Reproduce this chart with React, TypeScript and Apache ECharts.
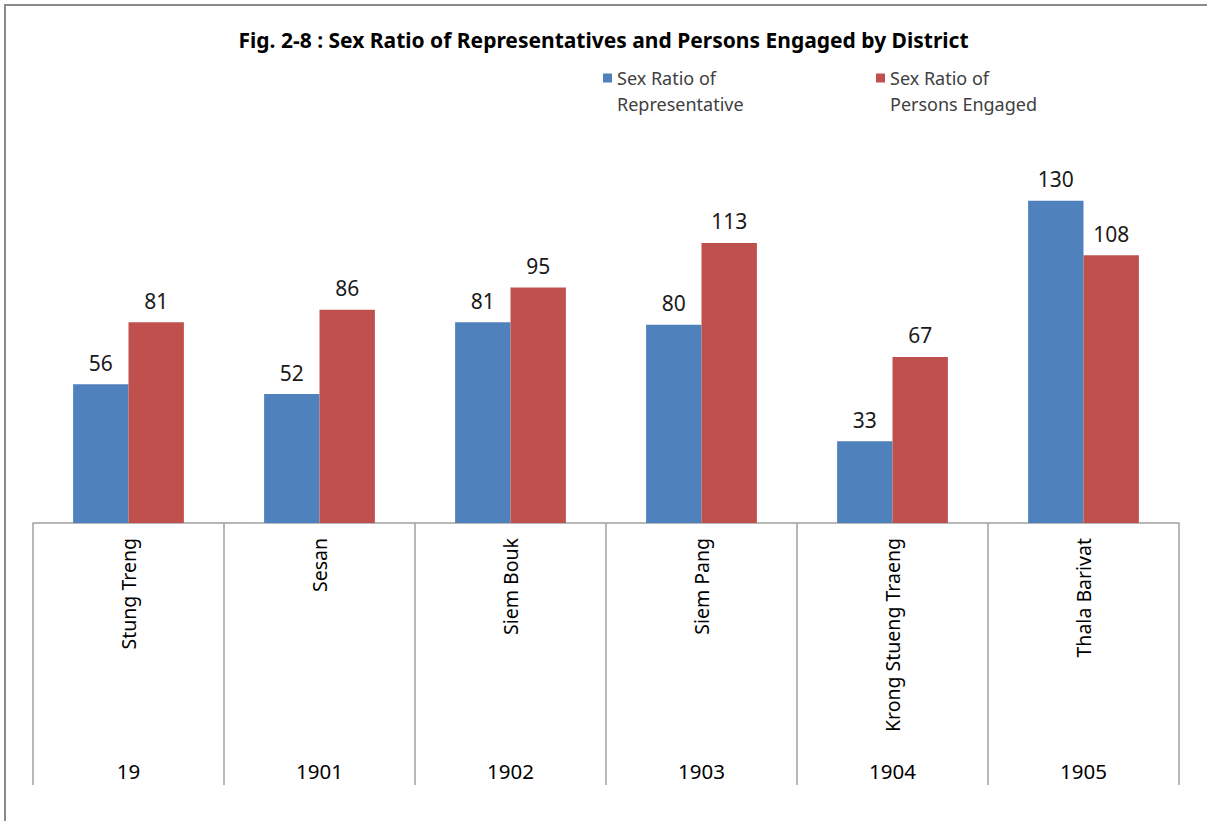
import React, { useEffect, useRef } from "react";
import * as echarts from "echarts";

const districts = ["Stung Treng", "Sesan", "Siem Bouk", "Siem Pang", "Krong Stueng Traeng", "Thala Barivat"];
const districtCodes = ["19", "1901", "1902", "1903", "1904", "1905"];
const seriesNames = ["Sex Ratio of Representative", "Sex Ratio of Persons Engaged"];
const representativeRatio = [56, 52, 81, 80, 33, 130];
const personsEngagedRatio = [81, 86, 95, 113, 67, 108];
const colors = ["#4F81BD", "#C0504D"];

const FONT = "Noto Sans";

export default function App() {
  const ref = useRef<HTMLDivElement>(null);

  useEffect(() => {
    document.body.style.margin = "0";
    const chart = echarts.init(ref.current!, null, { renderer: "svg" });
    const legendFormatter = (name: string) => "\n" + name.replace("of ", "of\n");
    const legendBase = {
      icon: "rect",
      itemWidth: 9,
      itemHeight: 9,
      padding: 0,
      formatter: legendFormatter,
      textStyle: { fontFamily: FONT, fontSize: 18, color: "#404040", lineHeight: 26 },
    };
    chart.setOption({
      animation: false,
      backgroundColor: "#ffffff",
      title: {
        text: "Fig. 2-8 : Sex Ratio of Representatives and Persons Engaged by District",
        left: "center",
        top: 29,
        padding: 0,
        textStyle: { fontFamily: FONT, fontSize: 21, fontWeight: "bold", color: "#000" },
      },
      legend: [
        { ...legendBase, data: [seriesNames[0]], left: 603, top: 39 },
        { ...legendBase, data: [seriesNames[1]], left: 876, top: 39 },
      ],
      grid: { left: 33, right: 28, top: 176, bottom: 298, containLabel: false },
      xAxis: [
        {
          type: "category",
          data: districts,
          axisLine: { show: true, lineStyle: { color: "#a0a0a0", width: 1.5 } },
          axisTick: { show: true, interval: 0, length: 262, lineStyle: { color: "#a0a0a0", width: 1.5 } },
          axisLabel: { interval: 0, rotate: 90, margin: 15, fontFamily: FONT, fontSize: 19.5, color: "#000" },
          splitLine: { show: false },
        },
        {
          type: "category",
          data: districtCodes,
          position: "bottom",
          offset: 229,
          axisLine: { show: false },
          axisTick: { show: false },
          axisLabel: { interval: 0, margin: 8, fontFamily: FONT, fontSize: 20.5, color: "#000" },
          splitLine: { show: false },
        },
      ],
      yAxis: { type: "value", min: 0, max: 140, show: false, splitLine: { show: false } },
      series: [
        {
          name: seriesNames[0],
          type: "bar",
          data: representativeRatio,
          itemStyle: { color: colors[0] },
          barGap: "0%",
          barCategoryGap: "42%",
          label: { show: true, position: "top", distance: 11, fontFamily: FONT, fontSize: 21, color: "#1a1a1a" },
        },
        {
          name: seriesNames[1],
          type: "bar",
          data: personsEngagedRatio,
          itemStyle: { color: colors[1] },
          barGap: "0%",
          barCategoryGap: "42%",
          label: { show: true, position: "top", distance: 11, fontFamily: FONT, fontSize: 21, color: "#1a1a1a" },
        },
      ],
      graphic: [
        { type: "line", shape: { x1: 4, y1: 5, x2: 1207, y2: 5 }, style: { stroke: "#8a8a8a", lineWidth: 2 } },
        { type: "line", shape: { x1: 5, y1: 4, x2: 5, y2: 821 }, style: { stroke: "#8a8a8a", lineWidth: 2 } },
      ],
    });
    return () => chart.dispose();
  }, []);

  return <div ref={ref} style={{ width: 1207, height: 821 }} />;
}
